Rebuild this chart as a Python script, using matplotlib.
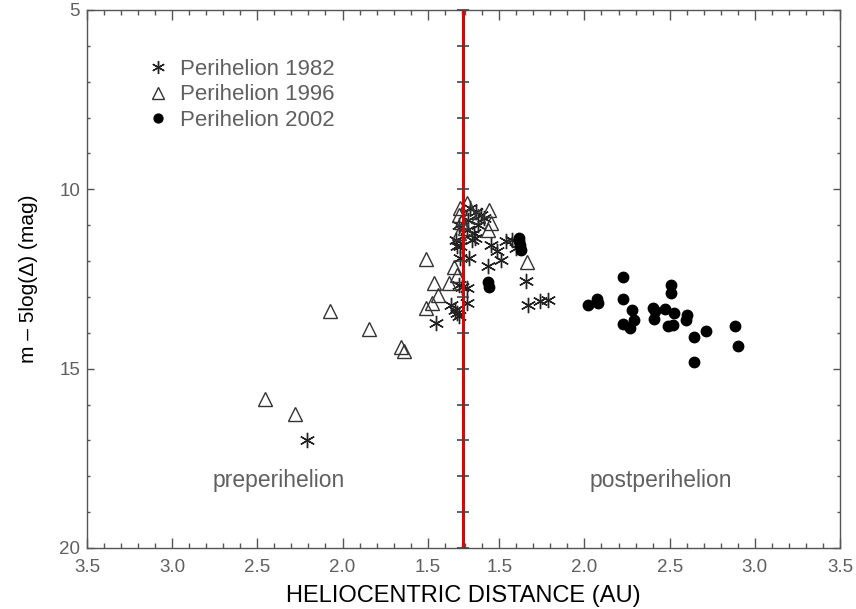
import numpy as np
import matplotlib
matplotlib.use('Agg')
import matplotlib.pyplot as plt

# perihelion distance of the orbit (AU); the x axis folds about it
q_peri = 1.29

# 1982 apparition (asterisks)
r82_pre = [2.206, 1.449, 1.308, 1.308, 1.298, 1.366, 1.327, 1.318, 1.337, 1.319, 1.314, 1.331, 1.327]
m82_pre = [17.00, 13.73, 11.92, 11.59, 12.71, 13.22, 13.45, 12.66, 13.36, 13.52, 10.99, 11.41, 11.59]
r82_post = [1.321, 1.312, 1.312, 1.435, 1.488, 1.508, 1.449, 1.537, 1.576, 1.596, 1.390, 1.341,
            1.351, 1.655, 1.669, 1.739, 1.785, 1.331, 1.361, 1.319, 1.378, 1.408, 1.308, 1.355]
m82_post = [11.92, 12.75, 13.17, 12.15, 11.73, 11.96, 11.55, 11.45, 11.41, 11.64, 10.71, 11.41,
            11.22, 12.55, 13.22, 13.11, 13.08, 10.52, 10.63, 10.85, 10.99, 10.79, 11.13, 11.35]

# 1996 apparition (open triangles)
r96_pre = [2.455, 2.278, 2.072, 1.847, 1.655, 1.637, 1.508, 1.465, 1.441, 1.474, 1.508, 1.376,
           1.343, 1.327, 1.308, 1.319, 1.302, 1.314]
m96_pre = [15.84, 16.26, 13.40, 13.89, 14.39, 14.50, 11.94, 12.60, 12.94, 13.17, 13.31, 12.61,
           12.16, 12.38, 10.52, 10.71, 10.91, 11.21]
r96_post = [1.308, 1.296, 1.437, 1.431, 1.378, 1.661, 1.330, 1.450]
m96_post = [10.38, 11.07, 10.57, 11.13, 10.74, 12.04, 10.62, 10.95]

# 2002 apparition (filled circles), all after perihelion
r02_post = [1.433, 1.437, 1.615, 1.618, 1.622, 1.625, 2.018, 2.071, 2.080, 2.225, 2.225, 2.278,
            2.225, 2.268, 2.292, 2.400, 2.416, 2.410, 2.472, 2.508, 2.508, 2.527, 2.492, 2.517,
            2.602, 2.596, 2.641, 2.714, 2.641, 2.884, 2.900]
m02_post = [12.58, 12.72, 11.35, 11.45, 11.55, 11.68, 13.22, 13.06, 13.17, 12.45, 13.06, 13.36,
            13.75, 13.87, 13.65, 13.31, 13.40, 13.61, 13.34, 12.66, 12.89, 13.45, 13.80, 13.77,
            13.50, 13.64, 14.12, 13.94, 14.82, 13.80, 14.36]

major_r = [1.5, 2.0, 2.5, 3.0, 3.5]
r_max = 3.5
mag_range = (5, 20)


def fold(r, pre):
    # preperihelion points go left of the perihelion line, postperihelion to the right
    r = np.asarray(r) - q_peri
    return -r if pre else r


grey = '#555555'
light = '#606060'
plt.rcParams['font.family'] = ['Liberation Sans', 'DejaVu Sans']

fig = plt.figure(figsize=(8.56, 6.09), dpi=100)
ax = fig.add_axes([0.1016, 0.1002, 0.8797, 0.8834])

star = (6, 2, 0)
ax.plot(fold(r82_pre, True), m82_pre, ls='none', marker=star, ms=11, mew=1.0, color='#222222')
ax.plot(fold(r82_post, False), m82_post, ls='none', marker=star, ms=11, mew=1.0, color='#222222',
        label='Perihelion 1982')
ax.plot(fold(r96_pre, True), m96_pre, ls='none', marker='^', ms=10, mew=1.0, mfc='none', mec='#333333')
ax.plot(fold(r96_post, False), m96_post, ls='none', marker='^', ms=10, mew=1.0, mfc='none',
        mec='#333333', label='Perihelion 1996')
ax.plot(fold(r02_post, False), m02_post, ls='none', marker='o', ms=7.5, color='black',
        label='Perihelion 2002')

# perihelion line with its own magnitude ticks
ax.axvline(0, color='#e00000', lw=2.2, zorder=5)
mag_grid = np.arange(mag_range[0], mag_range[1] + 1)
ax.plot(np.zeros_like(mag_grid), mag_grid, ls='none', marker='_', ms=8, mew=1.2, color='#444444',
        zorder=6, clip_on=False)

span = r_max - q_peri
ax.set_xlim(-span, span)
ax.set_ylim(mag_range[1], mag_range[0])

maj = [-(r - q_peri) for r in major_r[::-1]] + [(r - q_peri) for r in major_r]
maj_lab = [f'{r:.1f}' for r in major_r[::-1]] + [f'{r:.1f}' for r in major_r]
ax.set_xticks(maj)
ax.set_xticklabels(maj_lab)
minor_r = np.round(np.arange(1.3, r_max, 0.1), 1)
ax.set_xticks(np.concatenate([-(minor_r - q_peri), minor_r - q_peri]), minor=True)
ax.set_yticks(np.arange(mag_range[0], mag_range[1] + 1, 5))
ax.set_yticks(mag_grid, minor=True)

ax.tick_params(which='both', direction='in', top=True, right=True, color=grey,
               labelcolor=light, labelsize=13.5, width=1.0)
ax.tick_params(axis='x', which='major', length=7.2, pad=8)
ax.tick_params(axis='x', which='minor', length=3.6)
ax.tick_params(axis='y', which='major', length=5.0, pad=5)
ax.tick_params(axis='y', which='minor', length=2.5)
for s in ax.spines.values():
    s.set_color(grey)
    s.set_linewidth(1.0)

ax.set_xlabel('HELIOCENTRIC DISTANCE (AU)', fontsize=17, color='black', va='center')
ax.xaxis.set_label_coords(0.5, -0.089)
ax.set_ylabel('m \u2013 5log(\u0394) (mag)', fontsize=15, color='black', va='center')
ax.yaxis.set_label_coords(-0.078, 0.5)

ax.text(0.255, 0.126, 'preperihelion', transform=ax.transAxes, ha='center', va='center',
        fontsize=16.5, color=light)
ax.text(0.762, 0.126, 'postperihelion', transform=ax.transAxes, ha='center', va='center',
        fontsize=16.5, color=light)

leg = ax.legend(loc='upper left', bbox_to_anchor=(0.081, 0.909), frameon=False, fontsize=16,
                handlelength=0.9, handletextpad=0.55, labelspacing=0.2, borderpad=0,
                borderaxespad=0, markerscale=0.85)
for t in leg.get_texts():
    t.set_color(light)

fig.savefig('out.png', dpi=100)
